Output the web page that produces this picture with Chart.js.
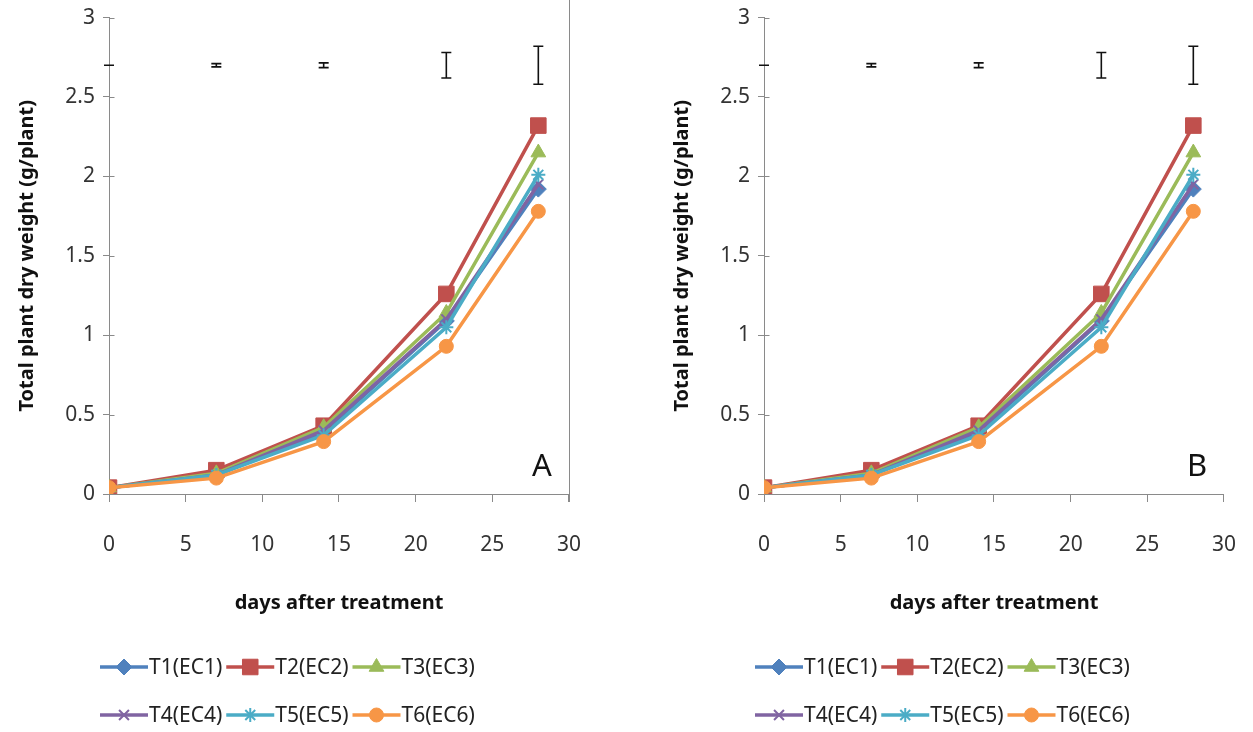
<!DOCTYPE html>
<html>
<head>
<meta charset="utf-8">
<script src="https://cdn.jsdelivr.net/npm/chart.js@4/dist/chart.umd.min.js"></script>
<style>
  html, body { margin: 0; padding: 0; background: #fff; overflow: hidden; }
  #wrapA { position: absolute; left: 0; top: -3px; width: 611px; height: 735px; }
  #wrapB { position: absolute; left: 655px; top: -3px; width: 611px; height: 735px; }
</style>
</head>
<body>
<div id="wrapA"><canvas id="chartA"></canvas></div>
<div id="wrapB"><canvas id="chartB"></canvas></div>
<script>
// days after treatment
var days = [0, 7, 14, 22, 28];

var t1 = [0.04, 0.12, 0.39, 1.09, 1.92];
var t2 = [0.04, 0.15, 0.43, 1.26, 2.32];
var t3 = [0.04, 0.13, 0.42, 1.14, 2.15];
var t4 = [0.04, 0.12, 0.40, 1.10, 1.95];
var t5 = [0.04, 0.12, 0.37, 1.05, 2.01];
var t6 = [0.04, 0.10, 0.33, 0.93, 1.78];

var seriesNames = ["T1(EC1)", "T2(EC2)", "T3(EC3)", "T4(EC4)", "T5(EC5)", "T6(EC6)"];

// LSD bars drawn at the top of the plot
var errCenter = [2.70, 2.70, 2.70, 2.70, 2.70];
var errHalf = [0.0, 0.01, 0.015, 0.08, 0.12];

var xTicks = [0, 5, 10, 15, 20, 25, 30];
var yTicks = [0, 0.5, 1, 1.5, 2, 2.5, 3];

var colors = ["#4F81BD", "#C0504D", "#9BBB59", "#8064A2", "#4BACC6", "#F79646"];
var styles = ["rectRot", "rect", "triangle", "crossRot", "star", "circle"];
var radii = [8, 11, 8.5, 7, 7, 7];

var fontFamily = "'Noto Sans', 'DejaVu Sans', sans-serif";

function pts(vals){
  var out = [];
  for (var i = 0; i < days.length; i++) out.push({x: days[i], y: vals[i]});
  return out;
}

var allSeries = [t1, t2, t3, t4, t5, t6];

function buildDatasets(){
  var ds = [];
  for (var i = 0; i < allSeries.length; i++) {
    var cross = (styles[i] === "crossRot" || styles[i] === "star");
    ds.push({
      label: seriesNames[i],
      data: pts(allSeries[i]),
      borderColor: colors[i],
      backgroundColor: colors[i],
      pointBackgroundColor: colors[i],
      pointBorderColor: colors[i],
      pointBorderWidth: cross ? 2 : 1,
      pointStyle: styles[i],
      pointRadius: radii[i],
      borderWidth: 3.5,
      tension: 0,
      fill: false,
      order: allSeries.length - i
    });
  }
  return ds;
}

// error bars, letter, right border and legend
var extras = {
  id: "extras",
  afterDatasetsDraw: function(chart, args, opts){
    var ctx = chart.ctx;
    var xs = chart.scales.x, ys = chart.scales.y;
    var area = chart.chartArea;
    ctx.save();
    ctx.strokeStyle = "#111";
    ctx.lineWidth = 1.6;
    for (var i = 0; i < days.length; i++) {
      var px = xs.getPixelForValue(days[i]);
      var top = ys.getPixelForValue(errCenter[i] + errHalf[i]);
      var bot = ys.getPixelForValue(errCenter[i] - errHalf[i]);
      ctx.beginPath();
      ctx.moveTo(px, top); ctx.lineTo(px, bot);
      ctx.moveTo(px - 5, top); ctx.lineTo(px + 5, top);
      ctx.moveTo(px - 5, bot); ctx.lineTo(px + 5, bot);
      ctx.stroke();
    }
    // y ticks cross the axis, as in the spreadsheet original
    var ax = Math.round(area.left) + 0.5;
    ctx.strokeStyle = "#8a8a8a";
    ctx.lineWidth = 1;
    ctx.beginPath();
    for (var j = 0; j < yTicks.length; j++) {
      var ty = Math.round(ys.getPixelForValue(yTicks[j])) + 0.5;
      ctx.moveTo(ax, ty); ctx.lineTo(ax + 5, ty);
    }
    ctx.stroke();
    if (opts.border) {
      var rx = Math.round(xs.getPixelForValue(30)) + 0.5;
      ctx.beginPath();
      ctx.moveTo(rx, 0); ctx.lineTo(rx, area.bottom + 8);
      ctx.stroke();
    }
    ctx.fillStyle = "#111";
    ctx.font = "31px " + fontFamily;
    ctx.textAlign = "center";
    ctx.textBaseline = "middle";
    ctx.fillText(opts.letter, area.right - 27, area.bottom - 27);

    // legend: two rows of three
    ctx.font = "21px " + fontFamily;
    ctx.textAlign = "left";
    var x0 = 100, lx = x0;
    for (var k = 0; k < seriesNames.length; k++) {
      var row = Math.floor(k / 3);
      if (k % 3 === 0) lx = x0;
      var cy = area.bottom + 173 + row * 48;
      ctx.strokeStyle = colors[k];
      ctx.fillStyle = colors[k];
      ctx.lineWidth = 3.5;
      ctx.beginPath();
      ctx.moveTo(lx, cy); ctx.lineTo(lx + 48, cy);
      ctx.stroke();
      var cross = (styles[k] === "crossRot" || styles[k] === "star");
      ctx.lineWidth = cross ? 2 : 1;
      Chart.helpers.drawPoint(ctx, {pointStyle: styles[k], radius: radii[k], rotation: 0, borderWidth: cross ? 2 : 1}, lx + 24, cy);
      ctx.fillStyle = "#222";
      ctx.fillText(seriesNames[k], lx + 49, cy + 1);
      lx += 49 + ctx.measureText(seriesNames[k]).width + 4;
    }
    ctx.restore();
  }
};

function makeChart(id, letter, border){
  var ctx = document.getElementById(id).getContext("2d");
  return new Chart(ctx, {
    type: "line",
    data: { datasets: buildDatasets() },
    plugins: [extras],
    options: {
      responsive: true,
      maintainAspectRatio: false,
      animation: false,
      layout: { padding: { top: 14, right: 0, bottom: 108, left: 0 } },
      plugins: {
        legend: { display: false },
        tooltip: { enabled: false },
        extras: { letter: letter, border: border }
      },
      scales: {
        x: {
          type: "linear",
          min: 0, max: 30,
          afterBuildTicks: function(s){ s.ticks = xTicks.map(function(v){ return {value: v}; }); },
          afterFit: function(s){ s.height = 130; },
          grid: { drawOnChartArea: false, color: "#8a8a8a", tickLength: 8 },
          border: { color: "#8a8a8a", width: 1 },
          ticks: { padding: 30, color: "#333", font: { size: 21, family: fontFamily } },
          title: {
            display: true,
            text: "days after treatment",
            color: "#111",
            font: { size: 20, weight: "bold", family: fontFamily },
            padding: { top: 0, bottom: 9 }
          }
        },
        y: {
          type: "linear",
          min: 0, max: 3,
          afterBuildTicks: function(s){ s.ticks = yTicks.map(function(v){ return {value: v}; }); },
          afterFit: function(s){ s.width = 109; },
          grid: { drawOnChartArea: false, color: "#8a8a8a", tickLength: 6 },
          border: { color: "#8a8a8a", width: 1 },
          ticks: { padding: 8, color: "#333", font: { size: 21, family: fontFamily },
                   callback: function(v){ return String(v); } },
          title: {
            display: true,
            text: "Total plant dry weight (g/plant)",
            color: "#111",
            font: { size: 20, weight: "bold", family: fontFamily },
            padding: { top: 15, bottom: 0 }
          }
        }
      }
    }
  });
}

makeChart("chartA", "A", true);
makeChart("chartB", "B", false);
</script>
</body>
</html>
